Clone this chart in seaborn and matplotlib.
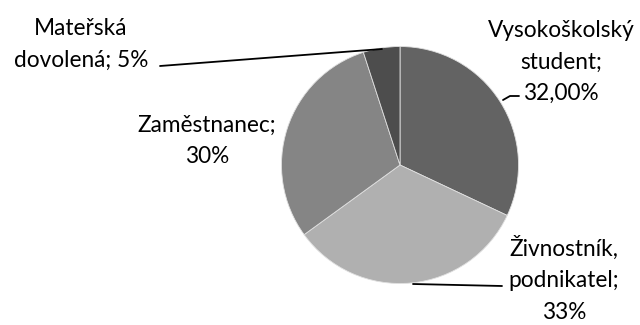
import matplotlib
matplotlib.use("Agg")
import matplotlib.pyplot as plt
import seaborn as sns

categories = ["Vysokoškolský student", "Živnostník, podnikatel", "Zaměstnanec", "Mateřská dovolená"]
values = [32, 33, 30, 5]
label_texts = ["Vysokoškolský\nstudent;\n32,00%", "Živnostník,\npodnikatel;\n33%", "Zaměstnanec;\n30%", "Mateřská\ndovolená; 5%"]
colors = ["#636363", "#b0b0b0", "#858585", "#4d4d4d"]

sns.set_theme(style="white")
plt.rcParams['font.family'] = ['Lato', 'DejaVu Sans']

W, H = 640, 325
fig = plt.figure(figsize=(W / 100, H / 100), dpi=100)
ax = fig.add_axes([0, 0, 1, 1])

cx, cy, r = 400, H - 165, 118.5
ax.pie(values, colors=colors, startangle=90, counterclock=False,
       center=(cx, cy), radius=r,
       wedgeprops=dict(edgecolor="#e0e0e0", linewidth=0.6), frame=True)
ax.set_xlim(0, W)
ax.set_ylim(0, H)
ax.set_aspect("auto")
ax.axis("off")

fs = 16.3
# label positions in pixel coords (x, y from top)
pos = [(561, 62), (564, 279), (207, 141), (81, 44)]
for txt, (x, y) in zip(label_texts, pos):
    ax.text(x, H - y, txt, ha="center", va="center", fontsize=fs,
            color="black", linespacing=1.63)

# leader lines
ax.plot([160, 382], [H - 66, H - 49], color="black", lw=1.3)
ax.plot([503, 510, 519], [H - 100, H - 96, H - 96], color="black", lw=1.3)
ax.plot([413, 502], [H - 284, H - 286], color="black", lw=1.3)

fig.savefig("out.png", dpi=100)
